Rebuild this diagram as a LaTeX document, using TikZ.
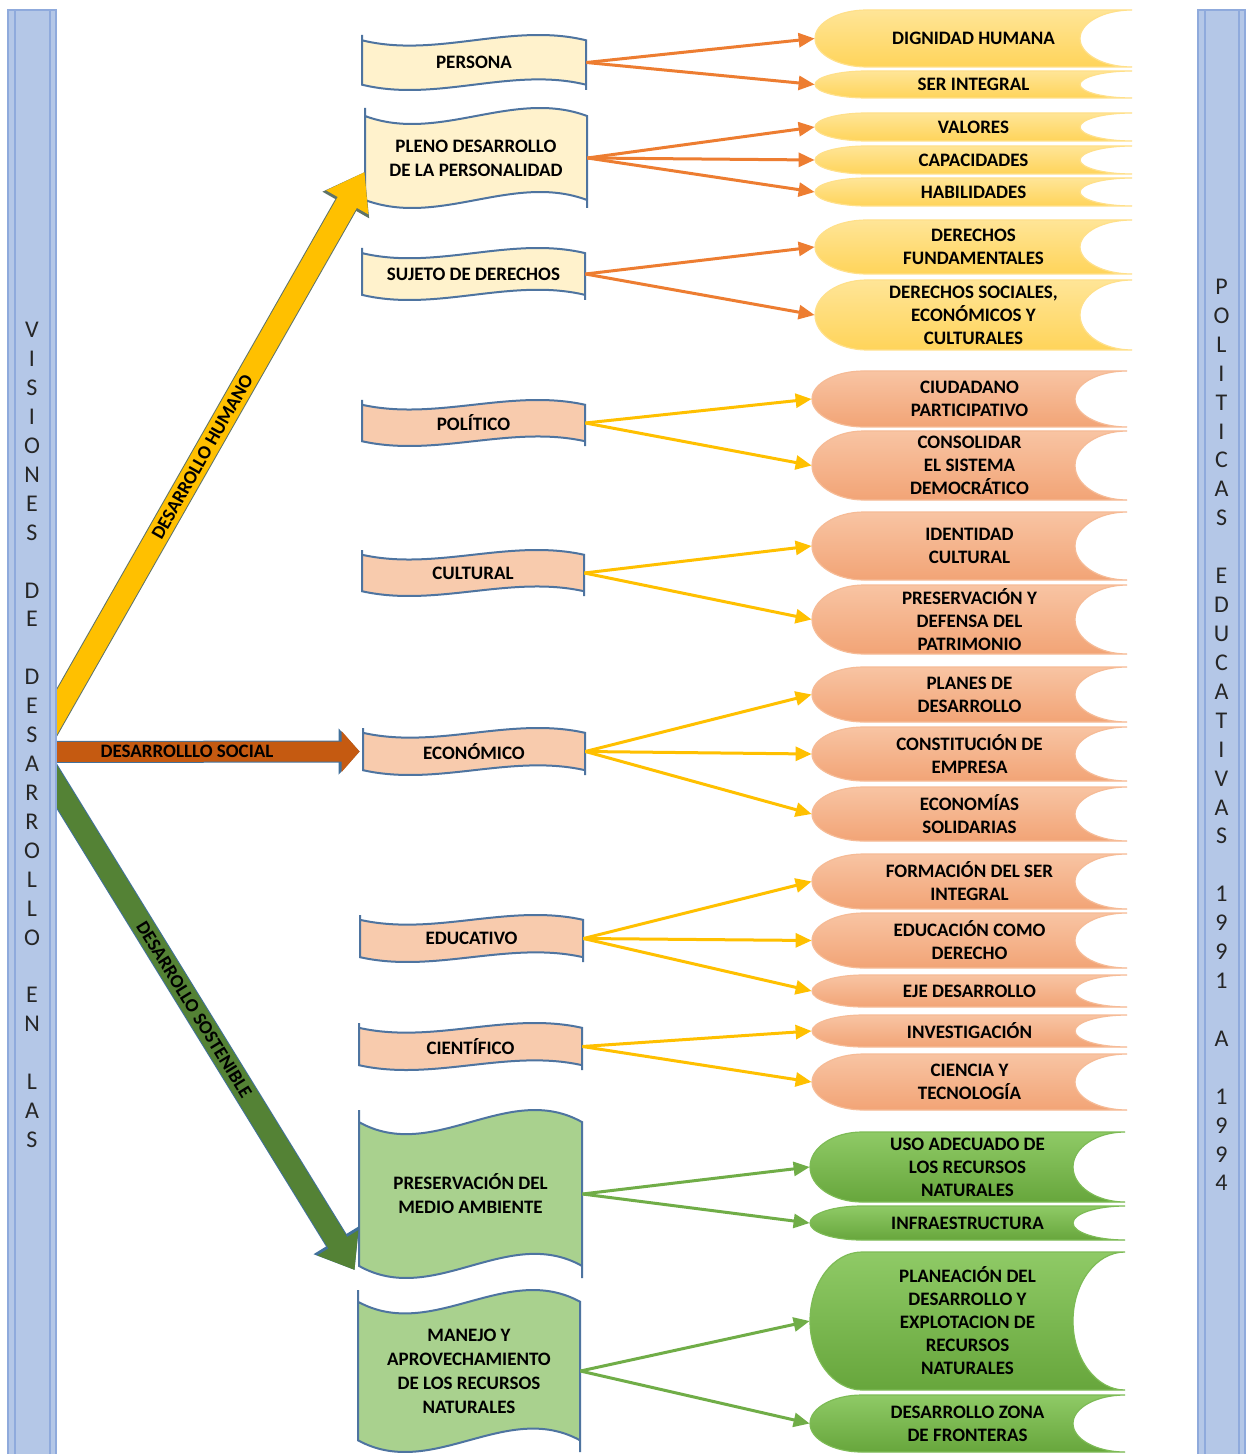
\documentclass[tikz,border=0pt]{standalone}
\usepackage{fontspec}
\setmainfont{Carlito}
\usetikzlibrary{arrows.meta, positioning}

\definecolor{barfill}{HTML}{B4C7E7}
\definecolor{barline}{HTML}{8FAADC}
\definecolor{tapeline}{HTML}{4E74A0}
\definecolor{tapeyel}{HTML}{FFF2CC}
\definecolor{tapesal}{HTML}{F8CBAD}
\definecolor{tapegrn}{HTML}{A9D18E}
\definecolor{yeltop}{HTML}{FFE597}
\definecolor{yelbot}{HTML}{FFD45A}
\definecolor{yeledge}{HTML}{FFE08A}
\definecolor{saltop}{HTML}{F8C4A3}
\definecolor{salbot}{HTML}{F2A476}
\definecolor{saledge}{HTML}{F6BB96}
\definecolor{grntop}{HTML}{8FCA66}
\definecolor{grnbot}{HTML}{67A63C}
\definecolor{grnedge}{HTML}{7DBB55}
\definecolor{arrorange}{HTML}{ED7D31}
\definecolor{arrgold}{HTML}{FFC000}
\definecolor{arrgreen}{HTML}{70AD47}
\definecolor{bigbrown}{HTML}{C55A11}
\definecolor{biggreen}{HTML}{548235}
\definecolor{humanedge}{HTML}{5F7367}
\definecolor{bigedge}{HTML}{41719C}

% wavy box: name, x0, y0, x1, y1, fill, text
\newcommand{\tapebox}[7]{%
  \pgfmathsetmacro\tpa{2+0.06*(#5-#3)}%
  \pgfmathsetmacro\tpc{3.46*\tpa}%
  \pgfmathsetmacro\tpw{(#4-#2)/3}%
  \fill[#6] (#2,#3+\tpa) .. controls (#2+\tpw,#3+\tpa+\tpc) and (#4-\tpw,#3+\tpa-\tpc) .. (#4,#3+\tpa)
    -- (#4,#5-\tpa) .. controls (#4-\tpw,#5-\tpa-\tpc) and (#2+\tpw,#5-\tpa+\tpc) .. (#2,#5-\tpa) -- cycle;
  \draw[tapeedge] (#2,#3) -- (#2,#5-\tpa) .. controls (#2+\tpw,#5-\tpa+\tpc) and (#4-\tpw,#5-\tpa-\tpc) .. (#4,#5-\tpa)
    (#4,#5) -- (#4,#3+\tpa) .. controls (#4-\tpw,#3+\tpa-\tpc) and (#2+\tpw,#3+\tpa+\tpc) .. (#2,#3+\tpa);
  \node[tapetext, minimum width={(#4-#2)*0.5pt}, minimum height={(#5-#3)*0.5pt}] (#1)
    at ({(#2+#4)/2},{(#3+#5)/2}) {#7};
}

% stored data box: name, x0, y0, x1, y1, style, text
\newcommand{\storebox}[7]{%
  \pgfmathsetmacro\stm{(#3+#5)/2}%
  \pgfmathsetmacro\sth{(#5-#3)/2*0.552}%
  \path[#6] (#2+52,#3) -- (#4,#3) .. controls (#4-28.7,#3) and (#4-52,\stm-\sth) .. (#4-52,\stm)
    .. controls (#4-52,\stm+\sth) and (#4-28.7,#5) .. (#4,#5) -- (#2+52,#5)
    .. controls (#2+23.3,#5) and (#2,\stm+\sth) .. (#2,\stm)
    .. controls (#2,\stm-\sth) and (#2+23.3,#3) .. (#2+52,#3) -- cycle;
  \node[storetext, minimum width={(#4-#2)*0.5pt}, minimum height={(#5-#3)*0.5pt}] (#1)
    at ({(#2+#4)/2},\stm) {#7};
}

\begin{document}
\begin{tikzpicture}[x=0.5pt, y=-0.5pt,
    >={Triangle[length=8pt, width=7pt]},
    tapetext/.style={font=\bfseries\fontsize{9.5}{12}\selectfont, align=center, inner sep=0pt, text=black},
    storetext/.style={font=\bfseries\fontsize{9.5}{11.5}\selectfont, align=center, inner sep=0pt, text=black},
    tapeedge/.style={draw=tapeline, line width=1pt},
    storeyel/.style={draw=yeledge, line width=0.6pt, top color=yeltop, bottom color=yelbot},
    storesal/.style={draw=saledge, line width=0.6pt, top color=saltop, bottom color=salbot},
    storegrn/.style={draw=grnedge, line width=0.6pt, top color=grntop, bottom color=grnbot},
    vbar/.style={draw=barline, fill=barfill, line width=0.8pt, align=center, inner sep=0pt,
        text=black!85, minimum height=725pt, font=\fontsize{12}{14.46}\selectfont,
        path picture={\draw[barline, line width=1pt]
            ([xshift=3.5pt]path picture bounding box.north west) -- ([xshift=3.5pt]path picture bounding box.south west)
            ([xshift=-3pt]path picture bounding box.north east) -- ([xshift=-3pt]path picture bounding box.south east);}},
    link/.style={->, line width=1.5pt},
    bigtext/.style={font=\bfseries\fontsize{9.5}{11}\selectfont, text=black, inner sep=0pt},
    humanarrow/.style={draw=arrgold, line width=11pt, -{Triangle[length=17.5pt, width=23pt]},
        preaction={draw=humanedge, line width=12pt, -{Triangle[length=19pt, width=25.5pt]}}},
    socialarrow/.style={draw=bigbrown, line width=10pt, -{Triangle[length=9pt, width=20pt]},
        preaction={draw=bigedge, line width=11pt, -{Triangle[length=10.5pt, width=22.5pt]}}},
    sustarrow/.style={draw=biggreen, line width=11pt, -{Triangle[length=16pt, width=23pt]},
        preaction={draw=bigedge, line width=12pt, -{Triangle[length=17.5pt, width=25.5pt]}}},
]
    \path[use as bounding box, fill=white] (0,0) rectangle (1255,1454);

    % middle column
    \tapebox{persona}{362}{35}{586}{90}{tapeyel}{PERSONA}
    \tapebox{pleno}{365}{108}{587}{208}{tapeyel}{PLENO DESARROLLO\\DE LA PERSONALIDAD}
    \tapebox{sujeto}{362}{248}{585}{300}{tapeyel}{SUJETO DE DERECHOS}
    \tapebox{politico}{362}{400}{585}{446}{tapesal}{POLÍTICO}
    \tapebox{cultural}{362}{550}{584}{596}{tapesal}{CULTURAL}
    \tapebox{economico}{363}{728}{585}{775}{tapesal}{ECONÓMICO}
    \tapebox{educativo}{360}{915}{583}{962}{tapesal}{EDUCATIVO}
    \tapebox{cientifico}{359}{1023}{582}{1070}{tapesal}{CIENTÍFICO}
    \tapebox{medioamb}{359}{1110}{582}{1278}{tapegrn}{PRESERVACIÓN DEL\\MEDIO AMBIENTE}
    \tapebox{recursos}{358}{1290}{580}{1452}{tapegrn}{MANEJO Y\\APROVECHAMIENTO\\DE LOS RECURSOS\\NATURALES}

    % right column
    \storebox{dignidad}{815}{10}{1132}{67}{storeyel}{DIGNIDAD HUMANA}
    \storebox{serint}{815}{71}{1132}{98}{storeyel}{SER INTEGRAL}
    \storebox{valores}{815}{113}{1132}{141}{storeyel}{VALORES}
    \storebox{capac}{815}{146}{1132}{174}{storeyel}{CAPACIDADES}
    \storebox{habil}{815}{178}{1132}{206}{storeyel}{HABILIDADES}
    \storebox{derfund}{815}{220}{1132}{274}{storeyel}{DERECHOS\\FUNDAMENTALES}
    \storebox{dersoc}{815}{280}{1132}{350}{storeyel}{DERECHOS SOCIALES,\\ECONÓMICOS Y\\CULTURALES}

    \storebox{ciudadano}{812}{371}{1127}{427}{storesal}{CIUDADANO\\PARTICIPATIVO}
    \storebox{consolidar}{812}{431}{1127}{500}{storesal}{CONSOLIDAR\\EL SISTEMA\\DEMOCRÁTICO}
    \storebox{identidad}{812}{512}{1127}{580}{storesal}{IDENTIDAD\\CULTURAL}
    \storebox{patrimonio}{812}{585}{1127}{654}{storesal}{PRESERVACIÓN Y\\DEFENSA DEL\\PATRIMONIO}
    \storebox{planes}{812}{667}{1127}{722}{storesal}{PLANES DE\\DESARROLLO}
    \storebox{empresa}{812}{727}{1127}{781}{storesal}{CONSTITUCIÓN DE\\EMPRESA}
    \storebox{solidarias}{812}{787}{1127}{841}{storesal}{ECONOMÍAS\\SOLIDARIAS}
    \storebox{formacion}{812}{854}{1127}{909}{storesal}{FORMACIÓN DEL SER\\INTEGRAL}
    \storebox{eduderecho}{812}{913}{1127}{968}{storesal}{EDUCACIÓN COMO\\DERECHO}
    \storebox{eje}{812}{975}{1127}{1007}{storesal}{EJE DESARROLLO}
    \storebox{investigacion}{812}{1015}{1127}{1047}{storesal}{INVESTIGACIÓN}
    \storebox{ciencia}{812}{1054}{1127}{1110}{storesal}{CIENCIA Y\\TECNOLOGÍA}

    \storebox{usorec}{810}{1132}{1125}{1202}{storegrn}{USO ADECUADO DE\\LOS RECURSOS\\NATURALES}
    \storebox{infra}{810}{1206}{1125}{1240}{storegrn}{INFRAESTRUCTURA}
    \storebox{planeacion}{810}{1252}{1125}{1390}{storegrn}{PLANEACIÓN DEL\\DESARROLLO Y\\EXPLOTACION DE\\RECURSOS\\NATURALES}
    \storebox{fronteras}{810}{1395}{1125}{1452}{storegrn}{DESARROLLO ZONA\\DE FRONTERAS}

    % big arrows from the left bar
    \coordinate (hbase) at (40,742);
    \coordinate (sbase) at (40,752);
    \coordinate (dbase) at (40,759);
    \draw[humanarrow] (hbase) -- node[bigtext, sloped, pos=0.5] {DESARROLLO HUMANO} ([yshift=-7pt]pleno.west);
    \draw[socialarrow] (sbase) -- node[bigtext, pos=0.46] {DESARROLLLO SOCIAL} ([xshift=-1.5pt]economico.west);
    \draw[sustarrow] (dbase) -- node[bigtext, sloped, pos=0.49] {DESARROLLO SOSTENIBLE} ([shift={(-2pt,-38pt)}]medioamb.west);

    % side bars
    \node[vbar, minimum width=24pt] (vis) at (32,735)
        {V\\I\\S\\I\\O\\N\\E\\S\\\mbox{}\\D\\E\\\mbox{}\\D\\E\\S\\A\\R\\R\\O\\L\\L\\O\\\mbox{}\\E\\N\\\mbox{}\\L\\A\\S};
    \node[vbar, minimum width=23.5pt] (pol) at (1221.5,735)
        {P\\O\\L\\I\\T\\I\\C\\A\\S\\\mbox{}\\E\\D\\U\\C\\A\\T\\I\\V\\A\\S\\\mbox{}\\1\\9\\9\\1\\\mbox{}\\A\\\mbox{}\\1\\9\\9\\4};

    % links
    \draw[link, arrorange] (persona.east) -- (dignidad.west);
    \draw[link, arrorange] (persona.east) -- (serint.west);
    \draw[link, arrorange] (pleno.east) -- (valores.west);
    \draw[link, arrorange] (pleno.east) -- (capac.west);
    \draw[link, arrorange] (pleno.east) -- (habil.west);
    \draw[link, arrorange] (sujeto.east) -- (derfund.west);
    \draw[link, arrorange] (sujeto.east) -- (dersoc.west);

    \draw[link, arrgold] (politico.east) -- (ciudadano.west);
    \draw[link, arrgold] (politico.east) -- (consolidar.west);
    \draw[link, arrgold] (cultural.east) -- (identidad.west);
    \draw[link, arrgold] (cultural.east) -- (patrimonio.west);
    \draw[link, arrgold] (economico.east) -- (planes.west);
    \draw[link, arrgold] (economico.east) -- (empresa.west);
    \draw[link, arrgold] (economico.east) -- (solidarias.west);
    \draw[link, arrgold] (educativo.east) -- (formacion.west);
    \draw[link, arrgold] (educativo.east) -- (eduderecho.west);
    \draw[link, arrgold] (educativo.east) -- (eje.west);
    \draw[link, arrgold] (cientifico.east) -- (investigacion.west);
    \draw[link, arrgold] (cientifico.east) -- (ciencia.west);

    \draw[link, arrgreen] (medioamb.east) -- (usorec.west);
    \draw[link, arrgreen] (medioamb.east) -- (infra.west);
    \draw[link, arrgreen] (recursos.east) -- (planeacion.west);
    \draw[link, arrgreen] (recursos.east) -- (fronteras.west);
\end{tikzpicture}
\end{document}
